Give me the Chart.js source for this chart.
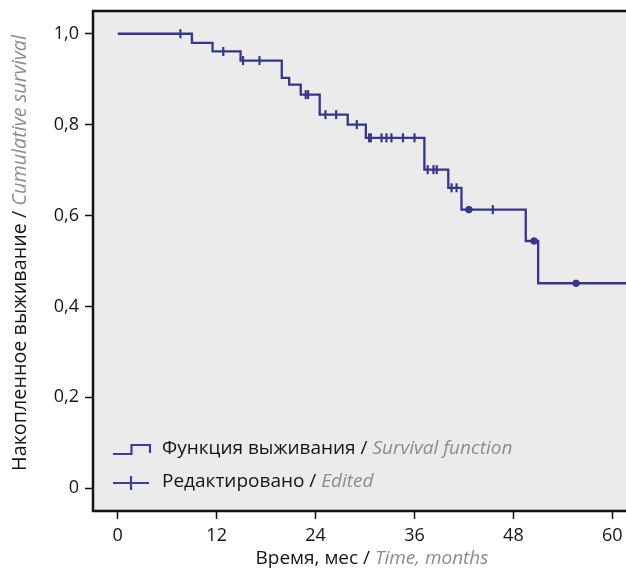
<!DOCTYPE html>
<html>
<head>
<meta charset="utf-8">
<script src="https://cdn.jsdelivr.net/npm/chart.js@4/dist/chart.umd.min.js"></script>
<style>
html,body{margin:0;padding:0;background:#fff;overflow:hidden;}
#wrap{width:626px;height:571px;position:relative;overflow:hidden;}
</style>
</head>
<body>
<div id="wrap"><canvas id="c" width="640" height="571"></canvas></div>
<script>
// ---- data ----
const stepTimes = [0, 9.0, 11.5, 14.9, 19.9, 20.8, 22.2, 24.5, 27.9, 30.1, 37.2, 40.1, 41.7, 49.5, 51.0, 62.5];
const stepSurv  = [1.0, 0.98, 0.961, 0.941, 0.903, 0.888, 0.866, 0.822, 0.800, 0.771, 0.701, 0.661, 0.613, 0.544, 0.451, 0.451];
const censorTimes = [7.6, 12.8, 15.2, 17.2, 22.8, 23.1, 25.2, 26.5, 29.0, 30.5, 30.7, 32.0, 32.6, 33.2, 34.6, 36.0, 37.6, 38.3, 38.7, 40.5, 41.1, 42.6, 45.5, 50.5, 55.6];
const censorSurv  = [1.0, 0.961, 0.941, 0.941, 0.866, 0.866, 0.822, 0.822, 0.800, 0.771, 0.771, 0.771, 0.771, 0.771, 0.771, 0.771, 0.701, 0.701, 0.701, 0.661, 0.661, 0.613, 0.613, 0.544, 0.451];
const censorDots  = [42.6, 50.5, 55.6];
const xTicks = [0, 12, 24, 36, 48, 60];
const xTickLabels = ['0', '12', '24', '36', '48', '60'];
const yTicks = [0, 0.2, 0.4, 0.6, 0.8, 1.0];
const yTickLabels = ['0', '0,2', '0,4', '0,6', '0,8', '1,0'];
const legendRu = ['Функция выживания / ', 'Редактировано / '];
const legendEn = ['Survival function', 'Edited'];
const xTitleRu = 'Время, мес / ', xTitleEn = 'Time, months';
const yTitleRu = 'Накопленное выживание / ', yTitleEn = 'Cumulative survival';

const FONT = '"Open Sans", "Noto Sans", sans-serif';
const LINE = '#36368a';
const LEG = '#3c3ca2';
const GRAY = '#8c8c8c';
const TXT = '#141414';

const curve = stepTimes.map((t, i) => ({x: t, y: stepSurv[i]}));
const cens = censorTimes.map((t, i) => ({x: t, y: censorSurv[i]}));

const decor = {
  id: 'decor',
  beforeDraw(chart) {
    const {ctx, chartArea: a} = chart;
    ctx.save();
    ctx.fillStyle = '#ebebeb';
    ctx.fillRect(a.left, a.top, a.right - a.left + 20, a.bottom - a.top);
    ctx.restore();
  },
  afterDraw(chart) {
    const {ctx, chartArea: a} = chart;
    ctx.save();
    ctx.strokeStyle = '#111';
    ctx.lineWidth = 2.5;
    ctx.beginPath();
    ctx.moveTo(a.right + 20, a.top);
    ctx.lineTo(a.left, a.top);
    ctx.lineTo(a.left, a.bottom);
    ctx.lineTo(a.right + 20, a.bottom);
    ctx.stroke();

    function drawMixed(ru, en, x0, y, size) {
      ctx.textAlign = 'left';
      ctx.font = size + 'px ' + FONT;
      ctx.fillStyle = TXT;
      ctx.fillText(ru, x0, y);
      const w1 = ctx.measureText(ru).width;
      ctx.font = 'italic ' + size + 'px ' + FONT;
      ctx.fillStyle = GRAY;
      ctx.fillText(en, x0 + w1, y);
    }
    function widthMixed(ru, en, size) {
      ctx.font = size + 'px ' + FONT;
      const w1 = ctx.measureText(ru).width;
      ctx.font = 'italic ' + size + 'px ' + FONT;
      return w1 + ctx.measureText(en).width;
    }
    ctx.textBaseline = 'middle';
    // x title
    {
      const size = 19;
      const w = widthMixed(xTitleRu, xTitleEn, size);
      drawMixed(xTitleRu, xTitleEn, 372 - w / 2, 559, size);
    }
    // y title
    {
      const size = 19.8;
      const w = widthMixed(yTitleRu, yTitleEn, size);
      ctx.save();
      ctx.translate(20, 253);
      ctx.rotate(-Math.PI / 2);
      drawMixed(yTitleRu, yTitleEn, -w / 2, 0, size);
      ctx.restore();
    }
    // legend
    const rows = [449, 482];
    ctx.strokeStyle = LEG;
    ctx.lineWidth = 2.2;
    ctx.beginPath();
    ctx.moveTo(113, 454); ctx.lineTo(131.5, 454); ctx.lineTo(131.5, 445);
    ctx.lineTo(150, 445); ctx.lineTo(150, 453);
    ctx.stroke();
    ctx.beginPath();
    ctx.moveTo(113, 483); ctx.lineTo(149, 483);
    ctx.moveTo(131, 476); ctx.lineTo(131, 490);
    ctx.stroke();
    for (let i = 0; i < 2; i++) drawMixed(legendRu[i], legendEn[i], 162, rows[i], 19);
    ctx.restore();
  }
};

new Chart(document.getElementById('c'), {
  type: 'line',
  data: {
    datasets: [
      {
        data: curve,
        stepped: 'before',
        borderColor: LINE,
        borderWidth: 2.3,
        pointRadius: 0,
        fill: false,
        order: 2
      },
      {
        data: cens,
        showLine: false,
        borderColor: LINE,
        backgroundColor: LINE,
        pointStyle: censorTimes.map(t => censorDots.includes(t) ? 'circle' : 'line'),
        pointRotation: 90,
        pointRadius: censorTimes.map(t => censorDots.includes(t) ? 3.3 : 4.5),
        pointBorderWidth: censorTimes.map(t => censorDots.includes(t) ? 1 : 2.2),
        order: 1
      }
    ]
  },
  options: {
    responsive: false,
    animation: false,
    events: [],
    layout: {padding: {top: 11, right: 12, left: 0, bottom: 0}},
    plugins: {legend: {display: false}, tooltip: {enabled: false}},
    scales: {
      x: {
        type: 'linear',
        min: -3, max: 61.9,
        afterBuildTicks(s) { s.ticks = xTicks.map(v => ({value: v})); },
        afterFit(s) { s.height = 60; s.paddingLeft = 0; s.paddingRight = 0; },
        ticks: {
          autoSkip: false, maxRotation: 0, padding: 6,
          color: TXT, font: {family: FONT, size: 18},
          callback(v) { const i = xTicks.indexOf(v); return i >= 0 ? xTickLabels[i] : ''; }
        },
        grid: {drawOnChartArea: false, drawTicks: true, tickLength: 8, color: '#111', tickWidth: 1.5},
        border: {display: false}
      },
      y: {
        type: 'linear',
        min: -0.05, max: 1.05,
        afterBuildTicks(s) { s.ticks = yTicks.map(v => ({value: v})); },
        afterFit(s) { s.width = 93; s.paddingTop = 0; s.paddingBottom = 0; },
        ticks: {
          autoSkip: false, padding: 6,
          color: TXT, font: {family: FONT, size: 18},
          callback(v) { const i = yTicks.findIndex(t => Math.abs(t - v) < 1e-9); return i >= 0 ? yTickLabels[i] : ''; }
        },
        grid: {drawOnChartArea: false, drawTicks: true, tickLength: 8, color: '#111', tickWidth: 1.5},
        border: {display: false}
      }
    }
  },
  plugins: [decor]
});
</script>
</body>
</html>
